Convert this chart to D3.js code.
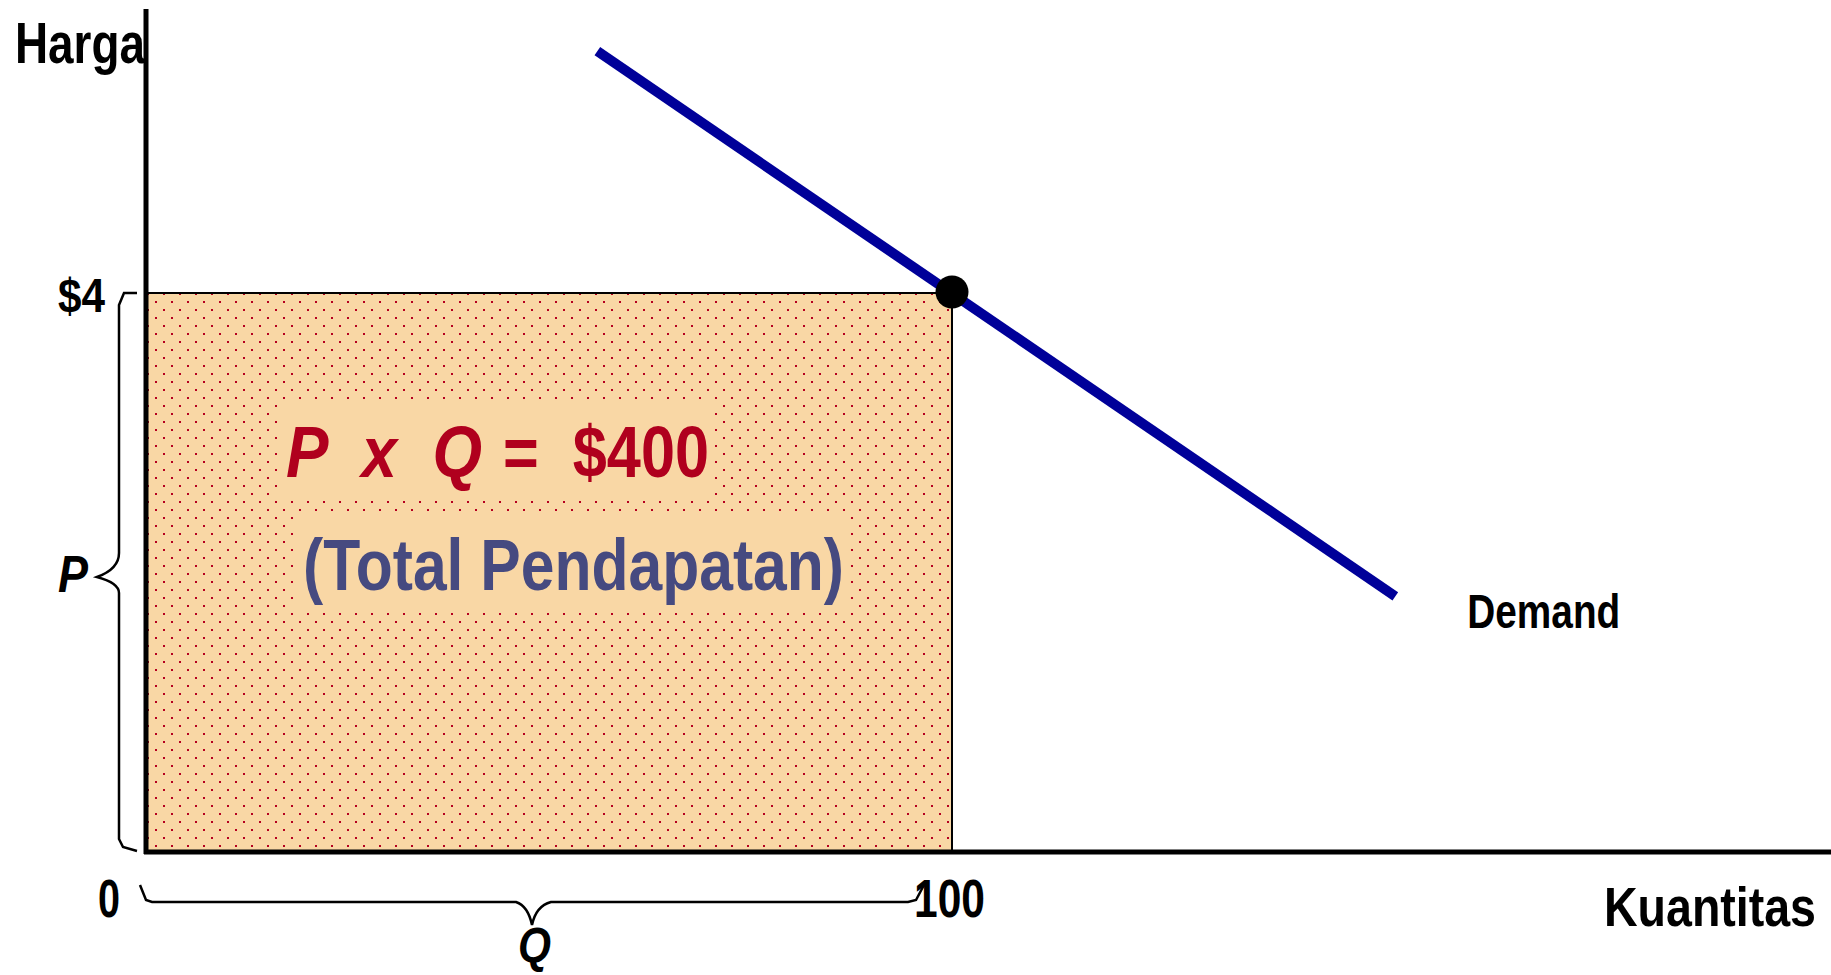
<!DOCTYPE html>
<html>
<head>
<meta charset="utf-8">
<script src="https://cdn.jsdelivr.net/npm/d3@7"></script>
<style>
  body { margin: 0; background: #fff; }
  text { font-family: "Liberation Sans Narrow", "Arial Narrow", "Liberation Sans", sans-serif; font-weight: bold; }
</style>
</head>
<body>
<div class="svg-container"></div>
<script>
var width = 1831,
  height = 975;

// data
var priceTicks = [4];
var quantityTicks = [0, 100];
var tickLabels = ["$4", "0", "100"];
var demand = [{q: 56, p: 5.73}, {q: 155, p: 1.83}];
var point = {q: 100, p: 4};
var revenueParts = ["P  x  Q", "=  $400"];
var revenueNote = "(Total Pendapatan)";

var svg = d3.select(".svg-container").append("svg")
  .attr("width", width)
  .attr("height", height);

var x = d3.scaleLinear().domain([0, 100]).range([146, 952]);
var y = d3.scaleLinear().domain([0, 4]).range([852, 293]);

// dotted fill
var defs = svg.append("defs");
var pat = defs.append("pattern")
  .attr("id", "dots")
  .attr("patternUnits", "userSpaceOnUse")
  .attr("width", 16)
  .attr("height", 16);
pat.append("rect").attr("width", 16).attr("height", 16).attr("fill", "#f9d7a5");
pat.append("rect").attr("x", 11).attr("y", 13).attr("width", 2).attr("height", 2).attr("fill", "#b5001f");
pat.append("rect").attr("x", 3).attr("y", 5).attr("width", 2).attr("height", 2).attr("fill", "#b5001f");

// revenue rectangle
svg.append("rect")
  .attr("x", x(0))
  .attr("y", y(point.p))
  .attr("width", x(point.q) - x(0))
  .attr("height", y(0) - y(point.p))
  .attr("fill", "url(#dots)")
  .attr("stroke", "#000")
  .attr("stroke-width", 2);

// plain boxes behind the texts
svg.append("rect").attr("x", 283).attr("y", 400).attr("width", 430).attr("height", 98).attr("fill", "#f9d7a5");
svg.append("rect").attr("x", 299).attr("y", 512).attr("width", 549).attr("height", 98).attr("fill", "#f9d7a5");

// demand line
var line = d3.line()
  .x(function(d) { return x(d.q); })
  .y(function(d) { return y(d.p); });

svg.append("path")
  .datum(demand)
  .attr("d", line)
  .attr("fill", "none")
  .attr("stroke", "#000099")
  .attr("stroke-width", 10);

svg.append("circle")
  .attr("cx", x(point.q))
  .attr("cy", y(point.p) - 1)
  .attr("r", 16.5)
  .attr("fill", "#000");

// axes
svg.append("line")
  .attr("x1", x(0)).attr("x2", x(0))
  .attr("y1", 9).attr("y2", y(0) + 2)
  .attr("stroke", "#000").attr("stroke-width", 5);
svg.append("line")
  .attr("x1", x(0) - 2).attr("x2", width)
  .attr("y1", y(0)).attr("y2", y(0))
  .attr("stroke", "#000").attr("stroke-width", 5);

// braces
var bx = x(0) - 27;
var pTop = y(priceTicks[0]), pBot = y(0) - 3, pMid = (pTop + pBot) / 2 + 6;
svg.append("path")
  .attr("d", "M" + (x(0) - 9) + "," + pTop +
    " L" + (bx + 5) + "," + pTop +
    " L" + bx + "," + (pTop + 12) +
    " L" + bx + "," + (pMid - 24) +
    " Q" + bx + "," + (pMid - 8) + " " + (bx - 22) + "," + pMid +
    " Q" + bx + "," + (pMid + 6) + " " + bx + "," + (pMid + 16) +
    " L" + bx + "," + (pBot - 10) +
    " L" + (bx + 4) + "," + (pBot - 2) +
    " L" + (x(0) - 9) + "," + (pBot + 2))
  .attr("fill", "none").attr("stroke", "#000").attr("stroke-width", 2.5);

var by = y(0) + 50;
var qL = x(quantityTicks[0]) - 6, qR = x(quantityTicks[1]) - 34, qMid = (qL + qR) / 2 + 3;
svg.append("path")
  .attr("d", "M" + qL + "," + (by - 17) +
    " L" + (qL + 6) + "," + (by - 2) +
    " L" + (qL + 12) + "," + by +
    " L" + (qMid - 16) + "," + by +
    " Q" + (qMid - 4) + "," + (by + 4) + " " + qMid + "," + (by + 23) +
    " Q" + (qMid + 4) + "," + (by + 4) + " " + (qMid + 19) + "," + by +
    " L" + (qR - 10) + "," + by +
    " L" + (qR - 2) + "," + (by - 2) +
    " L" + (qR + 6) + "," + (by - 17))
  .attr("fill", "none").attr("stroke", "#000").attr("stroke-width", 2.5);

// text labels
function label(t, px, py, size, len, opts) {
  opts = opts || {};
  var el = svg.append("text")
    .attr("x", px).attr("y", py)
    .attr("font-size", size)
    .attr("fill", opts.fill || "#000")
    .attr("textLength", len)
    .attr("lengthAdjust", "spacingAndGlyphs")
    .style("white-space", "pre")
    .text(t);
  if (opts.italic) el.attr("font-style", "italic");
  return el;
}

label("Harga", 15, 63, 57, 130);
label(tickLabels[0], 58, y(priceTicks[0]) + 19, 49, 47);
label("P", 58, 592, 51, 30, {italic: true});
label(tickLabels[1], x(quantityTicks[0]) - 48, 917, 53, 22);
label(tickLabels[2], x(quantityTicks[1]) - 38, 917, 53, 71);
label("Q", 518, 963, 50, 33, {italic: true});
label("Demand", x(demand[1].q) + 72, 628, 49, 153);
label("Kuantitas", 1604, 926, 56, 212);

label(revenueParts[0], 286, 477, 72, 196, {fill: "#b0001e", italic: true});
label(revenueParts[1], 503, 477, 72, 206, {fill: "#b0001e"});
label(revenueNote, 303, 590, 73, 541, {fill: "#464a80"});
</script>
</body>
</html>
